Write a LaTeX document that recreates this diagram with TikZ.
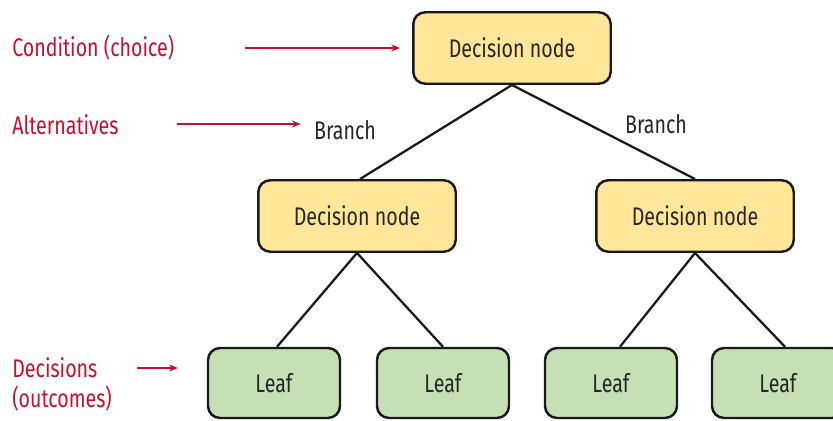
\documentclass[tikz,border=0pt]{standalone}
\usepackage{fontspec}
\setmainfont{Fira Sans}[FakeStretch=0.77]
\usetikzlibrary{arrows.meta}

\definecolor{nodeyellow}{HTML}{FFE699}
\definecolor{leafgreen}{HTML}{C5E0B4}
\definecolor{boxline}{HTML}{1A1A1A}
\definecolor{textgray}{HTML}{262626}
\definecolor{notered}{HTML}{C8102E}

\tikzset{
    decision/.style={draw=boxline, line width=1.4pt, rounded corners=0.24cm,
        fill=nodeyellow, minimum width=3.95cm, minimum height=1.43cm,
        text=textgray, font=\fontsize{14.5}{16}\selectfont},
    leaf/.style={decision, fill=leafgreen, minimum width=2.64cm, minimum height=1.40cm},
    note/.style={text=notered, anchor=west, align=left, inner sep=0pt,
        font=\fontsize{14.5}{17}\selectfont},
    branchlabel/.style={text=textgray, inner sep=0pt, font=\fontsize{14.5}{16}\selectfont},
    link/.style={draw=boxline, line width=1.3pt},
    pointer/.style={draw=notered, line width=0.6pt, -{Stealth[length=5pt, width=4pt]}}
}

\begin{document}
\begin{tikzpicture}[x=0.02cm, y=-0.02cm]
        \useasboundingbox (0,0) rectangle (833,420);
        \clip (0,0) rectangle (833,420);

        % tree
        \node [decision] (dtop) at (512, 48) {Decision node};
        \node [decision] (dleft) at (357, 216) {Decision node};
        \node [decision] (dright) at (695, 216) {Decision node};
        \node [leaf] (leafa) at (274, 383) {Leaf};
        \node [leaf] (leafb) at (443, 383) {Leaf};
        \node [leaf] (leafc) at (611, 383) {Leaf};
        \node [leaf] (leafd) at (778, 383) {Leaf};

        \draw [link] (dtop.south) -- ([xshift=0.06cm]dleft.north);
        \draw [link] (dtop.south) -- (dright.north);
        \draw [link] (dleft.south) -- ([xshift=0.06cm]leafa.north);
        \draw [link] (dleft.south) -- (leafb.north);
        \draw [link] (dright.south) -- ([xshift=0.18cm]leafc.north);
        \draw [link] (dright.south) -- ([xshift=0.14cm]leafd.north);

        \node [branchlabel] (brleft) at (345, 130) {Branch};
        \node [branchlabel] (brright) at (656, 124) {Branch};

        % notes
        \node [note] (cond) at (12, 48) {Condition (choice)};
        \node [note] (alt) at (12, 125) {Alternatives};
        \node [note] (outc) at (12, 384) {Decisions\\(outcomes)};

        \coordinate (condfrom) at (245, 48);
        \coordinate (altfrom) at (177, 124);
        \coordinate (outcfrom) at (137, 368);
        \draw [pointer] (condfrom) -- ([xshift=-0.24cm]dtop.west |- condfrom);
        \draw [pointer] (altfrom) -- ([xshift=-0.26cm]brleft.west |- altfrom);
        \draw [pointer] (outcfrom) -- ([xshift=-0.58cm]leafa.west |- outcfrom);
    \end{tikzpicture}
\end{document}
